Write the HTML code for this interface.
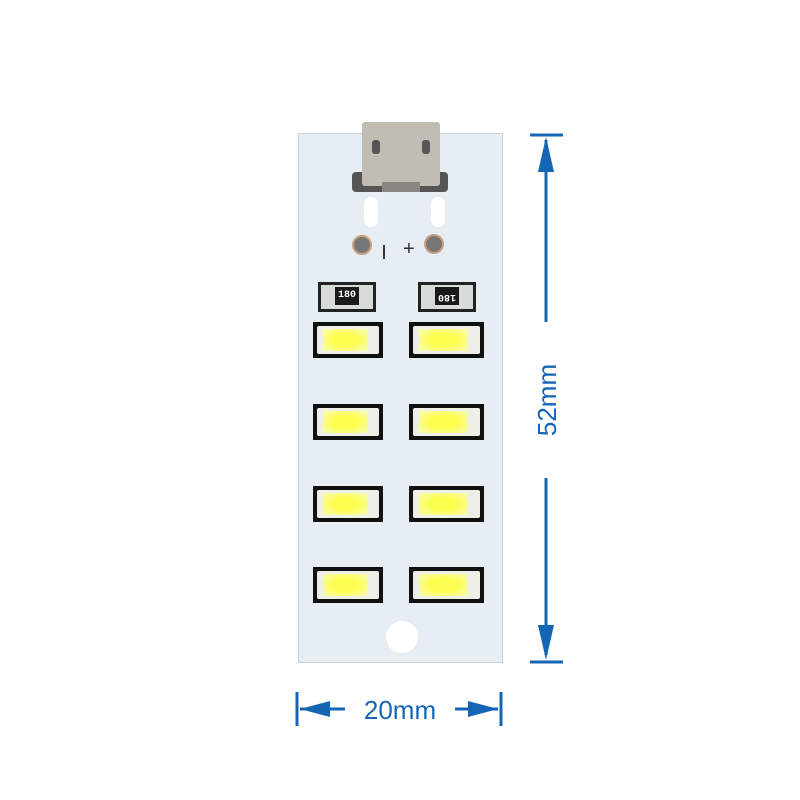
<!DOCTYPE html>
<html><head><meta charset="utf-8"><style>
body{margin:0;background:#fff;width:800px;height:800px;position:relative;overflow:hidden;font-family:"Liberation Sans",sans-serif}
.a{position:absolute}
.board{left:298px;top:133px;width:205px;height:530px;background:#e6edf3;border:1px solid #c9d2d9;box-sizing:border-box}
.led{position:absolute;height:36px;background:#111;box-sizing:border-box;padding:4px}
.led div{width:100%;height:100%;background:#eef0e6;border-radius:2px;position:relative}
.led div::after{content:"";position:absolute;left:6px;right:12px;top:3px;bottom:3px;background:radial-gradient(ellipse,#fdff50 40%,#f8fbb0 95%);}
.res{position:absolute;width:58px;height:30px;background:#222;box-sizing:border-box;padding:3px}
.res div{width:100%;height:100%;background:#d8dcd8;position:relative}
.res span{position:absolute;left:14px;top:2px;width:24px;height:18px;background:#1a1a1a;color:#fff;font:bold 10px "Liberation Mono",monospace;text-align:center;line-height:18px}
</style></head><body>
<div class="a board"></div>
<div class="a" style="left:352px;top:172px;width:96px;height:20px;background:#555;border-radius:4px"></div>
<div class="a" style="left:362px;top:122px;width:78px;height:64px;background:#c2bdb4;border-radius:3px"></div>
<div class="a" style="left:372px;top:140px;width:8px;height:14px;background:#555;border-radius:3px"></div>
<div class="a" style="left:422px;top:140px;width:8px;height:14px;background:#555;border-radius:3px"></div>
<div class="a" style="left:382px;top:182px;width:38px;height:10px;background:#8a8580"></div>
<div class="a" style="left:364px;top:197px;width:14px;height:30px;background:#fff;border-radius:7px"></div>
<div class="a" style="left:431px;top:197px;width:14px;height:30px;background:#fff;border-radius:7px"></div>
<div class="a" style="left:352px;top:235px;width:20px;height:20px;background:#777;border-radius:50%;border:2px solid #c8a080;box-sizing:border-box"></div>
<div class="a" style="left:424px;top:234px;width:20px;height:20px;background:#777;border-radius:50%;border:2px solid #c8a080;box-sizing:border-box"></div>
<div class="a" style="left:383px;top:245px;width:2px;height:14px;background:#333"></div>
<div class="a" style="left:403px;top:238px;font-size:20px;color:#333">+</div>
<div class="res" style="left:318px;top:282px"><div><span>180</span></div></div>
<div class="res" style="left:418px;top:282px"><div><span style="transform:rotate(180deg)">180</span></div></div>
<div class="led" style="left:313px;top:322px;width:70px"><div></div></div>
<div class="led" style="left:409px;top:322px;width:75px"><div></div></div>
<div class="led" style="left:313px;top:404px;width:70px"><div></div></div>
<div class="led" style="left:409px;top:404px;width:75px"><div></div></div>
<div class="led" style="left:313px;top:486px;width:70px"><div></div></div>
<div class="led" style="left:409px;top:486px;width:75px"><div></div></div>
<div class="led" style="left:313px;top:567px;width:70px"><div></div></div>
<div class="led" style="left:409px;top:567px;width:75px"><div></div></div>
<div class="a" style="left:386px;top:621px;width:32px;height:32px;background:#fff;border-radius:50%"></div>
<svg class="a" style="left:0;top:0" width="800" height="800">
<g fill="#1565b5" stroke="#1565b5">
<line x1="530" y1="135" x2="563" y2="135" stroke-width="3"/>
<line x1="530" y1="662" x2="563" y2="662" stroke-width="3"/>
<line x1="546" y1="140" x2="546" y2="322" stroke-width="3"/>
<line x1="546" y1="478" x2="546" y2="655" stroke-width="3"/>
<polygon points="546,137 538,172 554,172" stroke="none"/>
<polygon points="546,660 538,625 554,625" stroke="none"/>
<line x1="297" y1="692" x2="297" y2="726" stroke-width="3"/>
<line x1="501" y1="692" x2="501" y2="726" stroke-width="3"/>
<line x1="300" y1="709" x2="345" y2="709" stroke-width="3"/>
<line x1="455" y1="709" x2="498" y2="709" stroke-width="3"/>
<polygon points="300,709 330,701 330,717" stroke="none"/>
<polygon points="498,709 468,701 468,717" stroke="none"/>
</g>
<text x="400" y="719" text-anchor="middle" font-family="Liberation Sans" font-size="26" fill="#1565b5">20mm</text>
<text transform="translate(556,400) rotate(-90)" text-anchor="middle" font-family="Liberation Sans" font-size="26" fill="#1565b5">52mm</text>
</svg>
</body></html>
